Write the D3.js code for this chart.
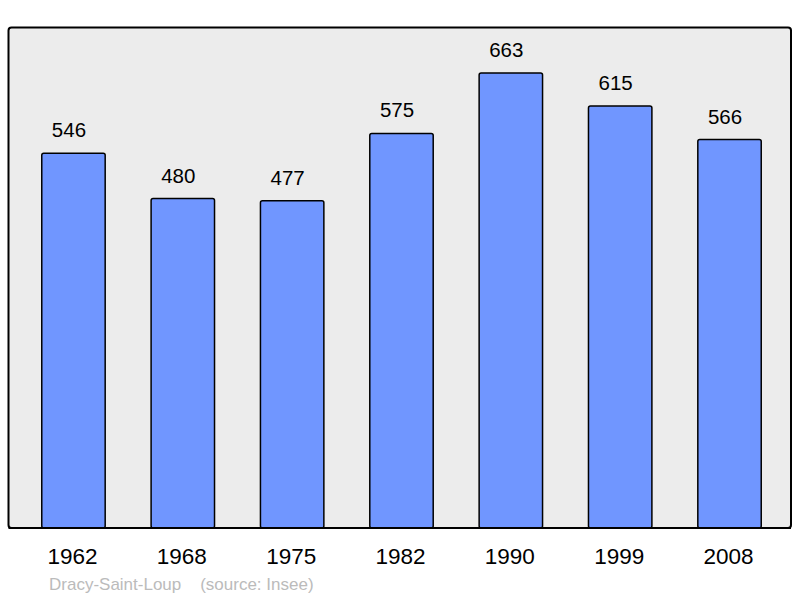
<!DOCTYPE html>
<html>
<head>
<meta charset="utf-8">
<script src="https://cdn.jsdelivr.net/npm/d3@7"></script>
<style>
  body { margin: 0; background: #fff; }
  text { font-family: "Liberation Sans", Arial, sans-serif; }
</style>
</head>
<body>
<div id="chart"></div>
<script>
var years = ["1962", "1968", "1975", "1982", "1990", "1999", "2008"];
var population = [546, 480, 477, 575, 663, 615, 566];
var yMax = 730;

var W = 800, H = 598;
var panel = {left: 8.5, top: 27.5, right: 791, bottom: 528};

var svg = d3.select("#chart")
  .append("svg")
    .attr("width", W)
    .attr("height", H);

// grey background panel
svg.append("rect")
  .attr("x", panel.left)
  .attr("y", panel.top)
  .attr("width", panel.right - panel.left)
  .attr("height", panel.bottom - panel.top)
  .attr("rx", 3)
  .attr("fill", "#ececec")
  .attr("stroke", "#000")
  .attr("stroke-width", 2);

var x = d3.scaleBand()
  .domain(years)
  .range([18.8, 784.2])
  .paddingInner(0.42)
  .paddingOuter(0.21);

var y = d3.scaleLinear()
  .domain([0, yMax])
  .range([panel.bottom, panel.bottom - yMax * 0.6863]);

var data = years.map(function(d, i) { return {year: d, value: population[i]}; });

svg.selectAll(".bar")
  .data(data)
  .enter()
  .append("rect")
    .attr("class", "bar")
    .attr("x", function(d) { return x(d.year); })
    .attr("y", function(d) { return y(d.value); })
    .attr("width", x.bandwidth())
    .attr("height", function(d) { return y(0) - y(d.value); })
    .attr("rx", 2)
    .attr("fill", "#7096ff")
    .attr("stroke", "#000")
    .attr("stroke-width", 1.5);

// redraw bottom edge of the panel over the bars
svg.append("line")
  .attr("x1", panel.left)
  .attr("x2", panel.right)
  .attr("y1", panel.bottom)
  .attr("y2", panel.bottom)
  .attr("stroke", "#000")
  .attr("stroke-width", 2);

// value labels sit slightly left of the bar centre
svg.selectAll(".val")
  .data(data)
  .enter()
  .append("text")
    .attr("class", "val")
    .attr("x", function(d) { return x(d.year) + x.bandwidth() / 2 - 4.5; })
    .attr("y", function(d) { return y(d.value) - 16; })
    .attr("text-anchor", "middle")
    .attr("font-size", 20.5)
    .attr("fill", "#000")
    .text(function(d) { return d.value; });

// year labels
var xAxis = svg.append("g")
  .attr("transform", "translate(0," + panel.bottom + ")")
  .call(d3.axisBottom(x).tickSize(0).tickPadding(0));
xAxis.select(".domain").remove();
xAxis.selectAll("text")
  .attr("x", -1)
  .attr("y", 36)
  .attr("dy", 0)
  .attr("font-size", 22.5)
  .attr("font-family", "Liberation Sans, Arial, sans-serif")
  .attr("fill", "#000");

svg.append("text")
  .attr("x", 49)
  .attr("y", 590)
  .attr("font-size", 17)
  .attr("fill", "#bbbbbb")
  .attr("xml:space", "preserve")
  .style("white-space", "pre")
  .text("Dracy-Saint-Loup    (source: Insee)");
</script>
</body>
</html>
